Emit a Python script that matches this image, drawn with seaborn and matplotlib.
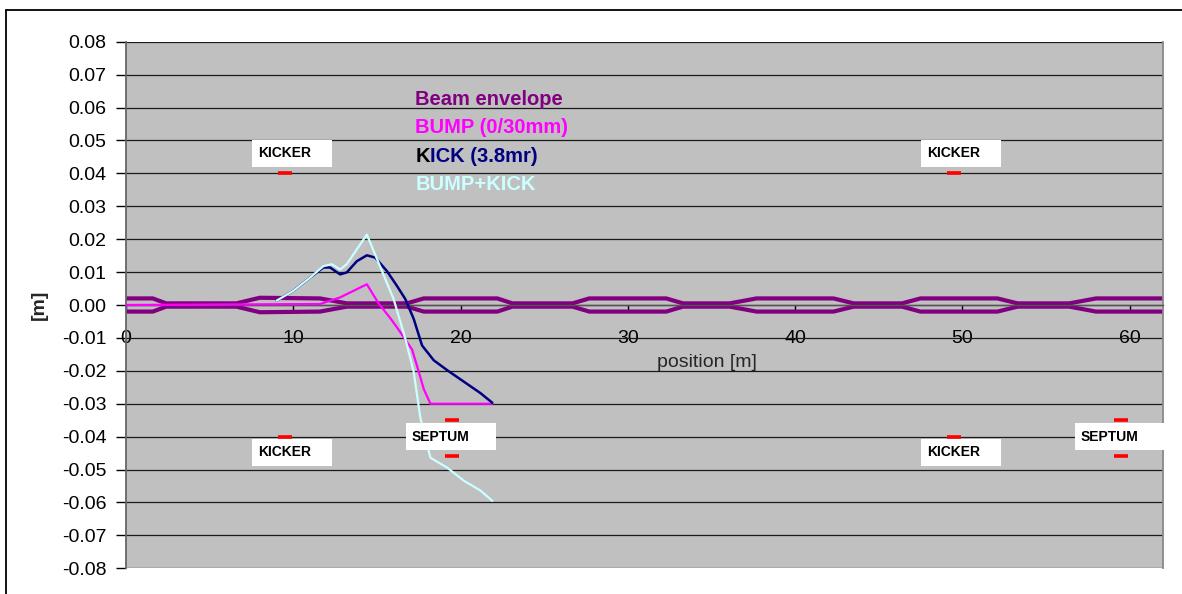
import matplotlib
matplotlib.use("Agg")
import matplotlib.pyplot as plt
import seaborn as sns
from matplotlib.lines import Line2D
from matplotlib.patches import Rectangle
from matplotlib.ticker import FormatStrFormatter
from matplotlib.offsetbox import TextArea, HPacker, VPacker, AnchoredOffsetbox

# ---- beam envelope (upper / lower edge) ----
env_pos = [0.0, 1.6, 2.4, 6.6, 8.0, 11.6, 13.2, 16.8, 17.8, 22.2, 23.1, 26.7, 27.7,
           32.3, 33.3, 36.1, 37.7, 42.3, 43.5, 46.4, 47.5, 52.1, 53.3, 56.4, 58.0, 62.0]
env_upper = [0.002, 0.002, 0.0005, 0.0005, 0.0022, 0.002, 0.0005, 0.0005, 0.002, 0.002,
             0.0005, 0.0005, 0.002, 0.002, 0.0005, 0.0005, 0.002, 0.002, 0.0005, 0.0005,
             0.002, 0.002, 0.0005, 0.0005, 0.002, 0.002]
env_lower = [-v for v in env_upper]

# ---- closed orbit bump ----
bump_pos = [0.0, 11.6, 12.8, 14.4, 15.1, 15.8, 16.2, 16.7, 17.1, 17.4, 17.8, 18.2, 21.9]
bump_val = [0.0, 0.0003, 0.0023, 0.0063, 0.0005, -0.004, -0.0068, -0.0105, -0.0135,
            -0.0185, -0.0255, -0.030, -0.030]

# ---- kicker deflection ----
kick_pos = [9.0, 10.0, 11.0, 11.8, 12.2, 12.8, 13.2, 13.8, 14.4, 14.9, 15.6, 16.2, 16.7,
            17.2, 17.7, 18.4, 19.2, 20.2, 21.2, 21.9]
kick_val = [0.0013, 0.0043, 0.0083, 0.0114, 0.0114, 0.0093, 0.0099, 0.0133, 0.0151,
            0.0144, 0.0103, 0.0058, 0.0018, -0.0042, -0.0123, -0.0168, -0.0198, -0.0233,
            -0.0268, -0.0297]

# ---- bump + kick ----
bk_pos = [9.0, 10.0, 11.0, 11.8, 12.3, 12.8, 13.2, 14.4, 16.0, 16.7, 17.2, 17.6, 18.2,
          19.2, 20.2, 21.2, 21.9]
bk_val = [0.0013, 0.0043, 0.0083, 0.0118, 0.0124, 0.0108, 0.0124, 0.0214, 0.0018,
          -0.0102, -0.0203, -0.0343, -0.0464, -0.0494, -0.0534, -0.0564, -0.0595]

# ---- element apertures ----
kicker_pos = [9.5, 9.5, 49.5, 49.5]
kicker_y = [0.04, -0.04, 0.04, -0.04]
septum_pos = [19.5, 19.5, 59.5, 59.5]
septum_y = [-0.035, -0.046, -0.035, -0.046]

series_names = ["Beam envelope", "BUMP (0/30mm)", "KICK (3.8mr)", "BUMP+KICK"]
series_colors = ["#800080", "#FF00FF", "#000080", "#CCFFFF"]

y_ticks = [round(-0.08 + 0.01 * i, 2) for i in range(17)]
x_ticks = [0, 10, 20, 30, 40, 50, 60]

sns.set_theme(style="white")
plt.rcParams["font.family"] = ["Liberation Sans", "DejaVu Sans"]

fig = plt.figure(figsize=(11.82, 5.94), dpi=100)
fig.patch.set_facecolor("white")
ax = fig.add_axes([126 / 1182, 1 - 568.3 / 594, (1163 - 126) / 1182, (568.3 - 41.7) / 594])
ax.set_facecolor("#C0C0C0")

# curves
sns.lineplot(x=env_pos, y=env_upper, ax=ax, color=series_colors[0], linewidth=3.0,
             sort=False, estimator=None, zorder=2)
sns.lineplot(x=env_pos, y=env_lower, ax=ax, color=series_colors[0], linewidth=3.0,
             sort=False, estimator=None, zorder=2)
sns.lineplot(x=bump_pos, y=bump_val, ax=ax, color=series_colors[1], linewidth=1.6,
             sort=False, estimator=None, zorder=3)
sns.lineplot(x=kick_pos, y=kick_val, ax=ax, color=series_colors[2], linewidth=1.8,
             sort=False, estimator=None, zorder=3)
sns.lineplot(x=bk_pos, y=bk_val, ax=ax, color=series_colors[3], linewidth=1.6,
             sort=False, estimator=None, zorder=4)

# white label boxes for the elements
def element_label(x0, y_center, text, left, right, text_off):
    ax.add_patch(Rectangle((x0 - left, y_center - 0.0041), left + right, 0.0082,
                           facecolor="white", edgecolor="none", zorder=5, clip_on=False))
    ax.text(x0 - text_off, y_center, text, fontsize=10, fontweight="bold",
            color="black", ha="left", va="center", zorder=6, clip_on=False)

for kx, ky in zip(kicker_pos, kicker_y):
    yc = 0.0461 if ky > 0 else -0.0447
    element_label(kx, yc, "KICKER", 1.95, 2.8, 1.6)
for sx in sorted(set(septum_pos)):
    element_label(sx, -0.0401, "SEPTUM", 2.75, 2.65, 2.4)

# aperture marks
ax.scatter(kicker_pos + septum_pos, kicker_y + septum_y, marker="_", s=110,
           linewidths=2.6, color="#FF0000", zorder=7)

# axes
ax.set_xlim(0, 62)
ax.set_ylim(-0.08, 0.08)
ax.set_yticks(y_ticks)
ax.set_xticks(x_ticks)
ax.yaxis.set_major_formatter(FormatStrFormatter("%.2f"))
ax.set_xticklabels([str(t) for t in x_ticks])
ax.grid(axis="y", color="#1a1a1a", linewidth=0.9)
ax.grid(axis="x", visible=False)
ax.set_axisbelow(True)

ax.spines["bottom"].set_position(("data", 0))
ax.spines["bottom"].set_color("#555555")
ax.spines["bottom"].set_linewidth(1.0)
ax.spines["left"].set_color("#666666")
ax.spines["left"].set_linewidth(1.3)
ax.spines["right"].set_color("#888888")
ax.spines["right"].set_linewidth(1.3)
ax.spines["top"].set_visible(False)

ax.tick_params(axis="y", left=True, direction="out", length=7, width=1.0, pad=7,
               labelsize=14, colors="black")
ax.tick_params(axis="x", bottom=True, direction="out", length=5, width=1.0, pad=13,
               labelsize=14, colors="black")

ax.set_ylabel("[m]", fontsize=14, fontweight="bold")
ax.yaxis.set_label_coords(-0.075, 0.5)
ax.set_xlabel("position [m]", fontsize=14)
ax.xaxis.set_label_coords(0.56, 0.407)

# text-only legend, one coloured row per series
legend_props = {"weight": "bold", "size": 14.5, "family": "Liberation Sans"}
rows = []
for name, col in zip(series_names, series_colors):
    if name.startswith("KICK"):
        # leading letter of the kick entry is shown in black
        rows.append(HPacker(children=[
            TextArea(name[0], textprops=dict(color="black", **legend_props)),
            TextArea(name[1:], textprops=dict(color=col, **legend_props)),
        ], sep=0, pad=0, align="baseline"))
    else:
        rows.append(TextArea(name, textprops=dict(color=col, **legend_props)))
legend_box = VPacker(children=rows, sep=6.7, pad=0, align="left")
anchored = AnchoredOffsetbox(loc="upper left", child=legend_box, pad=0, borderpad=0,
                             frameon=False, bbox_to_anchor=(0.279, 0.908),
                             bbox_transform=ax.transAxes)
anchored.set_zorder(8)
ax.add_artist(anchored)

# chart frame
fig.add_artist(Line2D([6 / 1182, 6 / 1182], [0, 1 - 10 / 594], transform=fig.transFigure,
                      color="black", linewidth=1.3))
fig.add_artist(Line2D([6 / 1182, 1], [1 - 10 / 594, 1 - 10 / 594], transform=fig.transFigure,
                      color="black", linewidth=1.3))

fig.savefig("out.png", dpi=100)
